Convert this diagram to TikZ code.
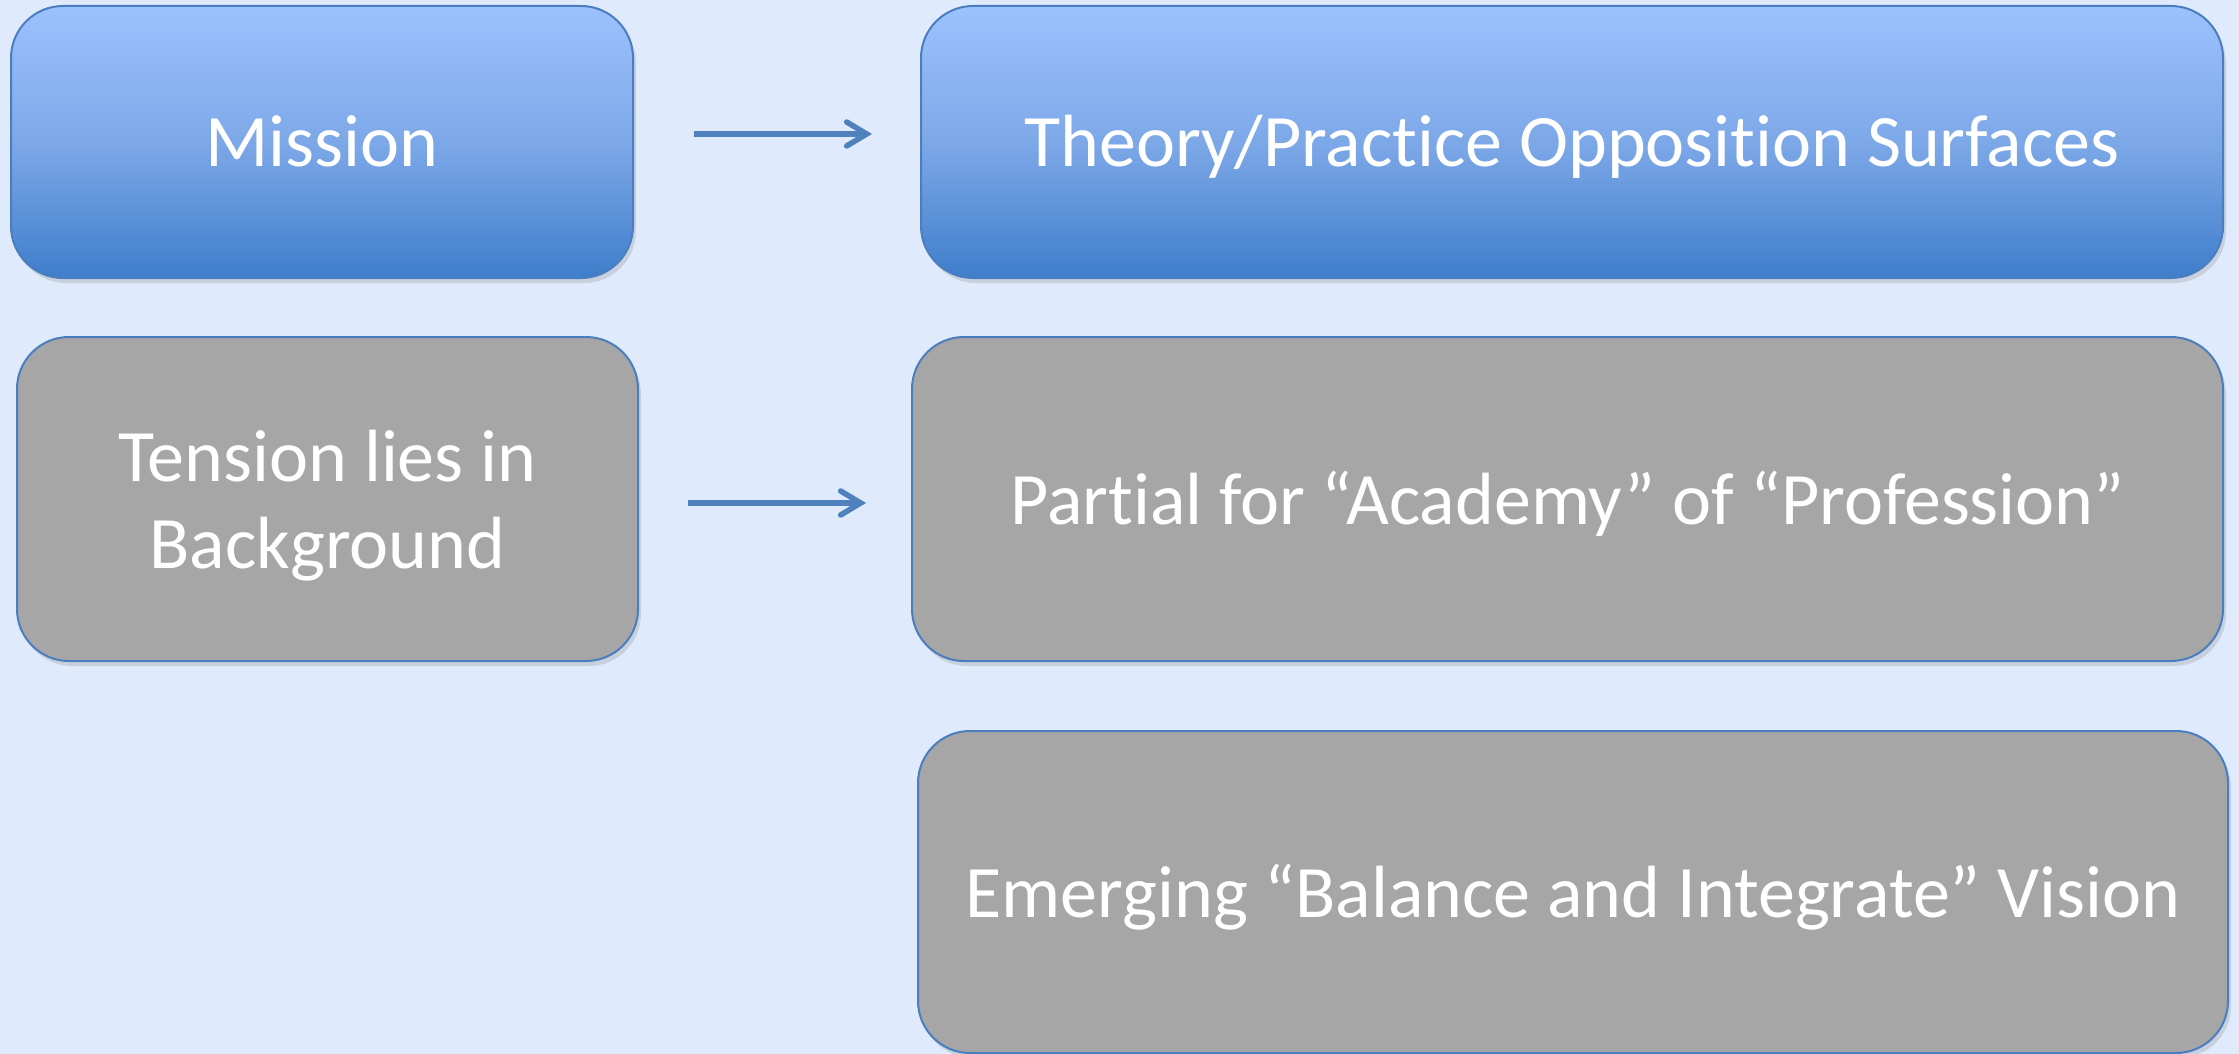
\documentclass[tikz,border=0pt]{standalone}
\usepackage{fontspec}
\setmainfont{Carlito}[Ligatures=NoCommon]
\usetikzlibrary{arrows.meta,shadows}
\definecolor{bgblue}{RGB}{223,235,252}
\definecolor{lightb}{RGB}{156,194,253}
\definecolor{midb}{RGB}{125,168,232}
\definecolor{darkb}{RGB}{63,126,203}
\definecolor{edgeb}{RGB}{74,126,190}
\definecolor{boxgray}{RGB}{166,166,166}
\definecolor{arrowb}{RGB}{79,129,189}
\tikzset{
  basebox/.style={draw=edgeb, line width=1pt, rounded corners=26pt, text=white,
    inner sep=0pt, font=\fontsize{37}{43.5}\selectfont,
    text height=33pt, text depth=8pt,
    drop shadow={opacity=0.25, shadow xshift=1.5pt, shadow yshift=-2.5pt}},
  bluebox/.style={basebox, top color=lightb, bottom color=darkb, middle color=midb},
  graybox/.style={basebox, fill=boxgray},
  conn/.style={draw=arrowb, line width=2.75pt,
    -{Straight Barb[length=10pt,width=12pt,line cap=round]}}
}
\begin{document}
\begin{tikzpicture}[x=0.5pt,y=-0.5pt]
\fill[bgblue] (0,0) rectangle (2239,1054);
\useasboundingbox (0,0) rectangle (2239,1054);
\node[bluebox, minimum width=311pt, minimum height=136pt] (mission) at (322,142) {Mission};
\node[bluebox, minimum width=651pt, minimum height=136pt] (theory) at (1572,142) {Theory/Practice Opposition Surfaces};
\node[graybox, minimum width=310.5pt, minimum height=162pt, text height=77pt, text depth=8pt] (tension) at (327.5,499)
  {\begin{tabular}[b]{@{}c@{}}Tension lies in\\Background\end{tabular}};
\node[graybox, minimum width=655.5pt, minimum height=162pt] (partial) at (1567.5,499) {Partial for “Academy” of “Profession”};
\node[graybox, minimum width=655pt, minimum height=161pt] (emerging) at (1573,892) {Emerging “Balance and Integrate” Vision};
\draw[conn, shorten <=30pt, shorten >=24pt] ([yshift=4pt]mission.east) -- ([yshift=4pt]theory.west);
\draw[conn, shorten <=24.5pt, shorten >=22.5pt] ([yshift=-2pt]tension.east) -- ([yshift=-2pt]partial.west);
\end{tikzpicture}
\end{document}
